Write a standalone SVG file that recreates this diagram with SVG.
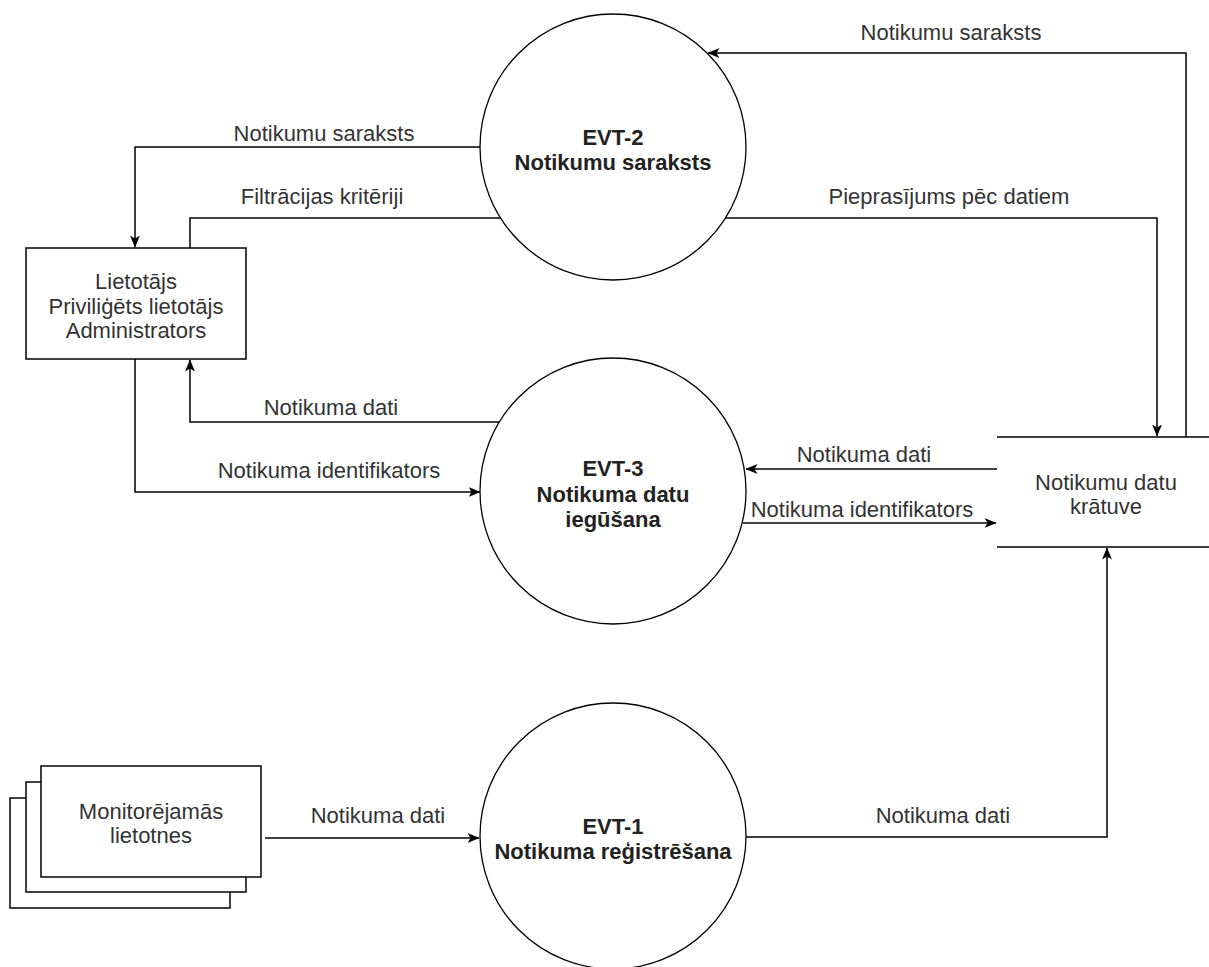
<svg xmlns="http://www.w3.org/2000/svg" width="1209" height="967" viewBox="0 0 1209 967">
<style>
.lbl{font-family:"Liberation Sans",Arial,sans-serif;font-size:22px;fill:#333;text-anchor:middle}
.bold{font-weight:bold;fill:#222}
.edge{fill:none;stroke:#000;stroke-width:1.5}
.shape{fill:#fff;stroke:#000;stroke-width:1.5}
.circ{fill:#fff;stroke:#000;stroke-width:1.3}
</style>
<defs>
<marker id="arr" markerUnits="userSpaceOnUse" viewBox="0 0 12 10" refX="11.5" refY="5" markerWidth="12" markerHeight="10" orient="auto">
<path d="M0,0 L12,5 L0,10 L3,5 Z" fill="#000"/>
</marker>
</defs>
<rect width="1209" height="967" fill="#fff"/>

<g id="connectors">
<path class="edge" d="M480,147 H135 V247" marker-end="url(#arr)"/>
<path class="edge" d="M190,248 V218 H501"/>
<path class="edge" d="M500,422 H190 V360" marker-end="url(#arr)"/>
<path class="edge" d="M135,359 V492 H480" marker-end="url(#arr)"/>
<path class="edge" d="M1186,437 V53 H708" marker-end="url(#arr)"/>
<path class="edge" d="M725,218 H1157 V436" marker-end="url(#arr)"/>
<path class="edge" d="M997,469 H746" marker-end="url(#arr)"/>
<path class="edge" d="M743,523 H996" marker-end="url(#arr)"/>
<path class="edge" d="M746,837 H1107 V548" marker-end="url(#arr)"/>
<path class="edge" d="M265,838 H479" marker-end="url(#arr)"/>
<text class="lbl" x="324" y="141">Notikumu saraksts</text>
<text class="lbl" x="322" y="204">Filtrācijas kritēriji</text>
<text class="lbl" x="331" y="415">Notikuma dati</text>
<text class="lbl" x="329" y="478">Notikuma identifikators</text>
<text class="lbl" x="951" y="40">Notikumu saraksts</text>
<text class="lbl" x="949" y="204">Pieprasījums pēc datiem</text>
<text class="lbl" x="864" y="462">Notikuma dati</text>
<text class="lbl" x="862" y="517">Notikuma identifikators</text>
<text class="lbl" x="943" y="823">Notikuma dati</text>
<text class="lbl" x="378" y="823">Notikuma dati</text>
</g>

<g id="user">
<rect class="shape" x="26" y="248" width="220" height="111"/>
<text class="lbl" x="136" y="289">Lietotājs</text>
<text class="lbl" x="136" y="314">Priviliģēts lietotājs</text>
<text class="lbl" x="136" y="338">Administrators</text>
</g>

<g id="evt2">
<circle class="circ" cx="613" cy="147" r="133"/>
<text class="lbl bold" x="613" y="145">EVT-2</text>
<text class="lbl bold" x="613" y="170">Notikumu saraksts</text>
</g>

<g id="evt3">
<circle class="circ" cx="613" cy="491" r="133"/>
<text class="lbl bold" x="613" y="476">EVT-3</text>
<text class="lbl bold" x="613" y="502">Notikuma datu</text>
<text class="lbl bold" x="613" y="527">iegūšana</text>
</g>

<g id="evt1">
<circle class="circ" cx="613" cy="836" r="133"/>
<text class="lbl bold" x="613" y="834">EVT-1</text>
<text class="lbl bold" x="613" y="859">Notikuma reģistrēšana</text>
</g>

<g id="store">
<path class="edge" d="M997,437 H1209 M997,547 H1209"/>
<text class="lbl" x="1106" y="490">Notikumu datu</text>
<text class="lbl" x="1106" y="514">krātuve</text>
</g>

<g id="apps">
<rect class="shape" x="10" y="798" width="220" height="110"/>
<rect class="shape" x="26" y="782" width="220" height="110"/>
<rect class="shape" x="41" y="766" width="220" height="111"/>
<text class="lbl" x="151" y="819">Monitorējamās</text>
<text class="lbl" x="151" y="843">lietotnes</text>
</g>
</svg>
